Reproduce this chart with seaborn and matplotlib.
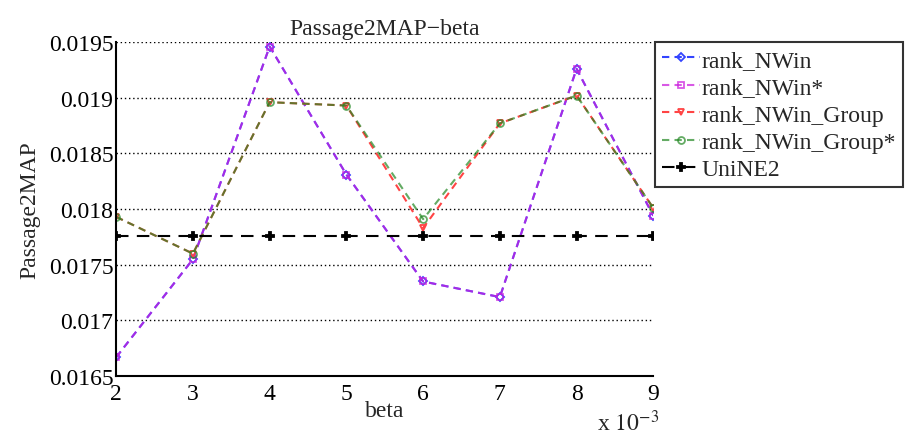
import pandas as pd
import numpy as np
import seaborn as sns
import matplotlib.pyplot as plt

beta = [2, 3, 4, 5, 6, 7, 8, 9]
rank_nwin = [0.01667, 0.01755, 0.01946, 0.01831, 0.01735, 0.01721, 0.01926, 0.01794]
rank_nwin_star = [0.01667, 0.01755, 0.01946, 0.01831, 0.01735, 0.01721, 0.01926, 0.01794]
rank_group = [0.01793, 0.01760, 0.01896, 0.01893, 0.01783, 0.01877, 0.01902, 0.01801]
rank_group_star = [0.01793, 0.01760, 0.01896, 0.01893, 0.01791, 0.01877, 0.01902, 0.01801]
unine2 = [0.01776] * 8

series = ["rank_NWin", "rank_NWin*", "rank_NWin_Group", "rank_NWin_Group*", "UniNE2"]
values = [rank_nwin, rank_nwin_star, rank_group, rank_group_star, unine2]
colors = ["#3344ff", "#cc22dd", "#ff4444", "#228822", "black"]
markers = ["D", "s", "v", "o", "P"]
msizes = [4, 5, 5, 5, 6]
alphas = [1.0, 0.75, 1.0, 0.7, 1.0]

df = pd.concat(
    [pd.DataFrame({"beta": beta, "map": v, "series": s}) for s, v in zip(series, values)],
    ignore_index=True,
)

sns.set_style("white")
plt.rcParams["font.family"] = ["Liberation Serif", "DejaVu Serif"]
plt.rcParams["mathtext.fontset"] = "stix"

fig = plt.figure(figsize=(9.15, 4.35), dpi=100)
ax = fig.add_axes([0.127, 0.133, 0.587, 0.768])

for i, s in enumerate(series):
    sub = df[df["series"] == s]
    dash = (0, (6, 4)) if s == "UniNE2" else (0, (3.5, 2.5))
    sns.lineplot(
        data=sub, x="beta", y="map", ax=ax, color=colors[i], lw=1.5, alpha=alphas[i],
        marker=markers[i], markersize=msizes[i],
        markerfacecolor="black" if s == "UniNE2" else "none",
        markeredgecolor=colors[i], markeredgewidth=1.3, label=s,
    )
    ax.lines[-1].set_linestyle(dash)

ax.set_xlim(2, 9)
ax.set_ylim(0.0165, 0.0195)
ax.set_xticks(beta)
ax.set_yticks([0.0165, 0.017, 0.0175, 0.018, 0.0185, 0.019, 0.0195])
ax.set_yticklabels(["0.0165", "0.017", "0.0175", "0.018", "0.0185", "0.019", "0.0195"])
ax.tick_params(axis="both", direction="in", length=4, labelsize=17, colors="black")
ax.tick_params(axis="x", pad=5)
ax.tick_params(axis="y", pad=2)
ax.grid(axis="y", color="black", linestyle=(0, (1, 2)), linewidth=1.0)
for side in ["top", "right"]:
    ax.spines[side].set_visible(False)
for side in ["left", "bottom"]:
    ax.spines[side].set_color("black")
    ax.spines[side].set_linewidth(1.5)

ax.set_xlabel("beta", fontsize=17, labelpad=-3)
ax.set_ylabel("Passage2MAP", fontsize=17, labelpad=6)
ax.set_title("Passage2MAP\u2212beta", fontsize=17, pad=6)
fig.text(0.652, 0.008, r"x $10^{-3}$", fontsize=17)

leg = ax.legend(loc="upper left", bbox_to_anchor=(0.716, 0.901), bbox_transform=fig.transFigure,
                fontsize=17, frameon=True, fancybox=False, handlelength=1.6, handletextpad=0.05,
                labelspacing=0.25, borderaxespad=0, borderpad=0.3)
leg.get_frame().set_edgecolor("black")
leg.get_frame().set_linewidth(1.5)

fig.savefig("out.png", dpi=100)
